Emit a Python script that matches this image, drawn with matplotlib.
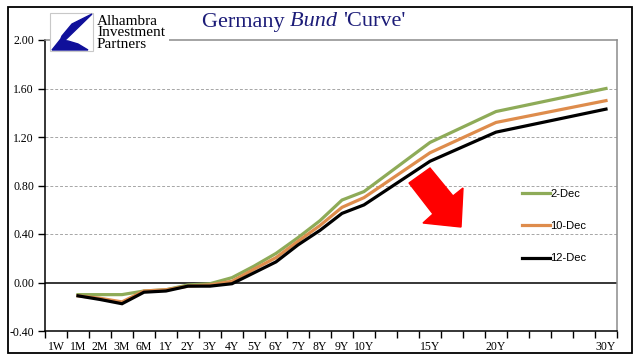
import matplotlib
matplotlib.use("Agg")
import matplotlib.pyplot as plt
from matplotlib.patches import Polygon, Rectangle
import numpy as np

# category axis (blank slots keep the 15Y/20Y/30Y spacing)
categories = ['1W', '1M', '2M', '3M', '6M', '1Y', '2Y', '3Y', '4Y', '5Y', '6Y', '7Y', '8Y', '9Y', '10Y',
              '', '', '15Y', '', '', '20Y', '', '', '', '', '30Y']
tenors = ['1M', '2M', '3M', '6M', '1Y', '2Y', '3Y', '4Y', '5Y', '6Y', '7Y', '8Y', '9Y', '10Y', '15Y', '20Y', '30Y']

dec2 = [-0.10, -0.10, -0.10, -0.07, -0.06, -0.02, -0.01, 0.04, 0.135, 0.24, 0.37, 0.51, 0.68, 0.75, 1.155, 1.41, 1.60]
dec10 = [-0.11, -0.13, -0.16, -0.07, -0.06, -0.03, -0.02, 0.01, 0.11, 0.205, 0.34, 0.47, 0.62, 0.70, 1.07, 1.32, 1.50]
dec12 = [-0.11, -0.14, -0.175, -0.08, -0.07, -0.03, -0.03, -0.01, 0.08, 0.17, 0.31, 0.43, 0.57, 0.64, 1.00, 1.24, 1.43]

series = [('2-Dec', dec2, '#8eab58'), ('10-Dec', dec10, '#de8c4c'), ('12-Dec', dec12, '#000000')]

W, H = 641, 361
fig = plt.figure(figsize=(W / 100, H / 100), dpi=100)

def fx(px):
    return px / W

def fy(py):
    return 1 - py / H

ax = fig.add_axes([fx(45), fy(331), fx(617) - fx(45), fy(40) - fy(331)])

xpos = [categories.index(t) for t in tenors]
for name, vals, col in series:
    ax.plot(xpos, vals, color=col, lw=2.3, label=name, solid_joinstyle='miter')

ax.set_xlim(-0.5, len(categories) - 0.5)
ax.set_ylim(-0.4, 2.0)

yt = np.arange(-0.4, 2.01, 0.4)
ax.set_yticks(yt)
ax.set_yticklabels(['%.2f' % v if abs(v) > 1e-9 else '0.00' for v in yt],
                   family='Liberation Serif', fontsize=8.5)
for v in yt[1:-1]:
    if abs(v) < 1e-9:
        ax.axhline(0, color='black', lw=1.1, zorder=1)
    else:
        ax.axhline(v, color='#a6a6a6', lw=0.7, ls=(0, (3, 2)), zorder=0)

ax.set_xticks(range(len(categories)))
ax.set_xticklabels(categories, family='Liberation Serif', fontsize=8.5)
ax.set_xticks(np.arange(-0.5, len(categories)), minor=True)
ax.tick_params(axis='x', which='major', length=0, pad=7)
ax.tick_params(axis='x', which='minor', length=5, width=1, direction='out')
ax.tick_params(axis='y', length=5, width=1, direction='out', pad=3)

for s in ['left', 'bottom']:
    ax.spines[s].set_color('black')
    ax.spines[s].set_linewidth(1.1)
for s in ['top', 'right']:
    ax.spines[s].set_color('#8c8c8c')
    ax.spines[s].set_linewidth(1.1)

leg = ax.legend(loc='upper left', bbox_to_anchor=(fx(512), fy(179)), bbox_transform=fig.transFigure,
                frameon=False, handlelength=2.5, handletextpad=0.05, labelspacing=2.0,
                prop={'family': 'Liberation Sans', 'size': 8})

# red arrow annotation
arrow = [(409, 183), (430, 168), (453, 196), (463, 188), (461, 227), (423, 223), (433, 214)]
fig.patches.append(Polygon([(fx(x), fy(y)) for x, y in arrow], closed=True,
                           transform=fig.transFigure, color='#ff0000', zorder=5))

# logo
fig.patches.append(Rectangle((fx(50), fy(51)), fx(93) - fx(50), fy(13) - fy(51), transform=fig.transFigure,
                             facecolor='white', edgecolor='#c8c8c8', lw=0.8, zorder=6))
logo_top = [(92, 14), (57, 48), (62, 36), (72, 24)]
logo_bot = [(52, 50), (60, 40), (68, 41), (78, 44), (88, 50)]
for pts in (logo_top, logo_bot):
    fig.patches.append(Polygon([(fx(x), fy(y)) for x, y in pts], closed=True,
                               transform=fig.transFigure, color='#10109a', zorder=7))
fig.text(fx(97), fy(33), 'Alhambra\nInvestment\nPartners', family='Liberation Serif', fontsize=11,
         linespacing=0.88, va='center', ha='left', color='black', zorder=7)
fig.patches.append(Rectangle((fx(52), fy(52)), fx(169) - fx(52), fy(37) - fy(52), transform=fig.transFigure,
                             facecolor='white', edgecolor='none', zorder=5.5))

# title, placed piece by piece
renderer = fig.canvas.get_renderer()
x0 = 202
for piece, st in [('Germany ', 'normal'), ('Bund ', 'italic'), ("'Curve'", 'normal')]:
    t = fig.text(fx(x0), fy(22), piece, family='Liberation Serif', style=st, fontsize=16,
                 color='#1c1c78', va='center', ha='left')
    x0 += t.get_window_extent(renderer).width

# outer frame
fig.patches.append(Rectangle((fx(8), fy(353)), fx(632) - fx(8), fy(7) - fy(353), transform=fig.transFigure,
                             facecolor='none', edgecolor='black', lw=1.3, zorder=8))

fig.savefig('out.png', dpi=100)
